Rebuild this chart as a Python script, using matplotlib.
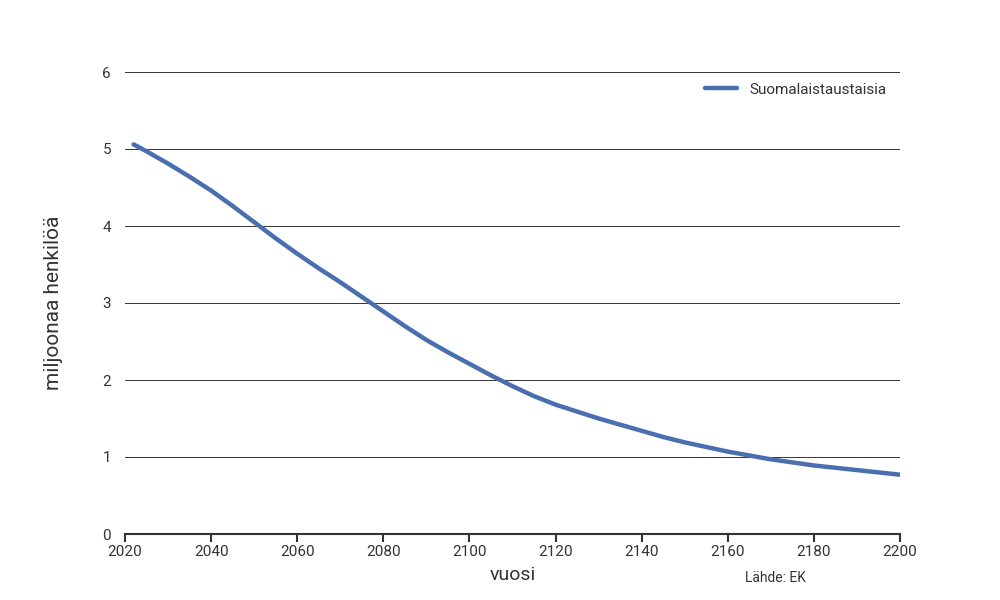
import matplotlib
matplotlib.use("Agg")
import matplotlib.pyplot as plt

# Data (million people, by year)
years = [2022, 2025, 2030, 2035, 2040, 2045, 2050, 2055, 2060, 2065, 2070,
         2075, 2080, 2085, 2090, 2095, 2100, 2105, 2110, 2115, 2120, 2125,
         2130, 2135, 2140, 2145, 2150, 2155, 2160, 2165, 2170, 2175, 2180,
         2185, 2190, 2195, 2200]
population = [5.06, 4.97, 4.81, 4.64, 4.46, 4.26, 4.05, 3.84, 3.64, 3.45, 3.27,
              3.08, 2.89, 2.70, 2.52, 2.36, 2.21, 2.06, 1.92, 1.79, 1.68, 1.59,
              1.50, 1.42, 1.34, 1.26, 1.19, 1.13, 1.07, 1.02, 0.97, 0.93, 0.89,
              0.86, 0.83, 0.80, 0.77]
xticks = list(range(2020, 2201, 20))
yticks = [0, 1, 2, 3, 4, 5, 6]

plt.rcParams["font.family"] = ["Roboto", "DejaVu Sans"]

fig = plt.figure(figsize=(10, 6), dpi=100)
ax = fig.add_axes([0.125, 0.11, 0.775, 0.77])

ax.plot(years, population, color="#4a6fae", linewidth=3.2,
        solid_capstyle="round", solid_joinstyle="round",
        label="Suomalaistaustaisia", zorder=3)

ax.set_xlim(2020, 2200)
ax.set_ylim(0, 6)
ax.set_xticks(xticks)
ax.set_yticks(yticks)
ax.grid(axis="y", color="#333333", linewidth=0.7)
ax.set_axisbelow(True)

for side in ["top", "right", "left"]:
    ax.spines[side].set_visible(False)
ax.spines["bottom"].set_color("#333333")
ax.spines["bottom"].set_linewidth(1.5)

ax.tick_params(axis="x", length=6, width=1.5, color="#333333",
               labelsize=11, labelcolor="#333333", pad=2)
ax.tick_params(axis="y", length=0, labelsize=11, labelcolor="#333333", pad=10)

ax.set_xlabel("vuosi", fontsize=14, color="#333333", labelpad=5)
ax.set_ylabel("miljoonaa henkilöä", fontsize=15, color="#333333", labelpad=28)

ax.legend(loc="upper right", frameon=False, fontsize=11, handlelength=2.1,
          bbox_to_anchor=(0.99, 0.99), borderaxespad=0, labelcolor="#333333")

fig.text(0.745, 0.03, "Lähde: EK", fontsize=10, color="#333333")

plt.savefig("out.png", dpi=100)
plt.close()
